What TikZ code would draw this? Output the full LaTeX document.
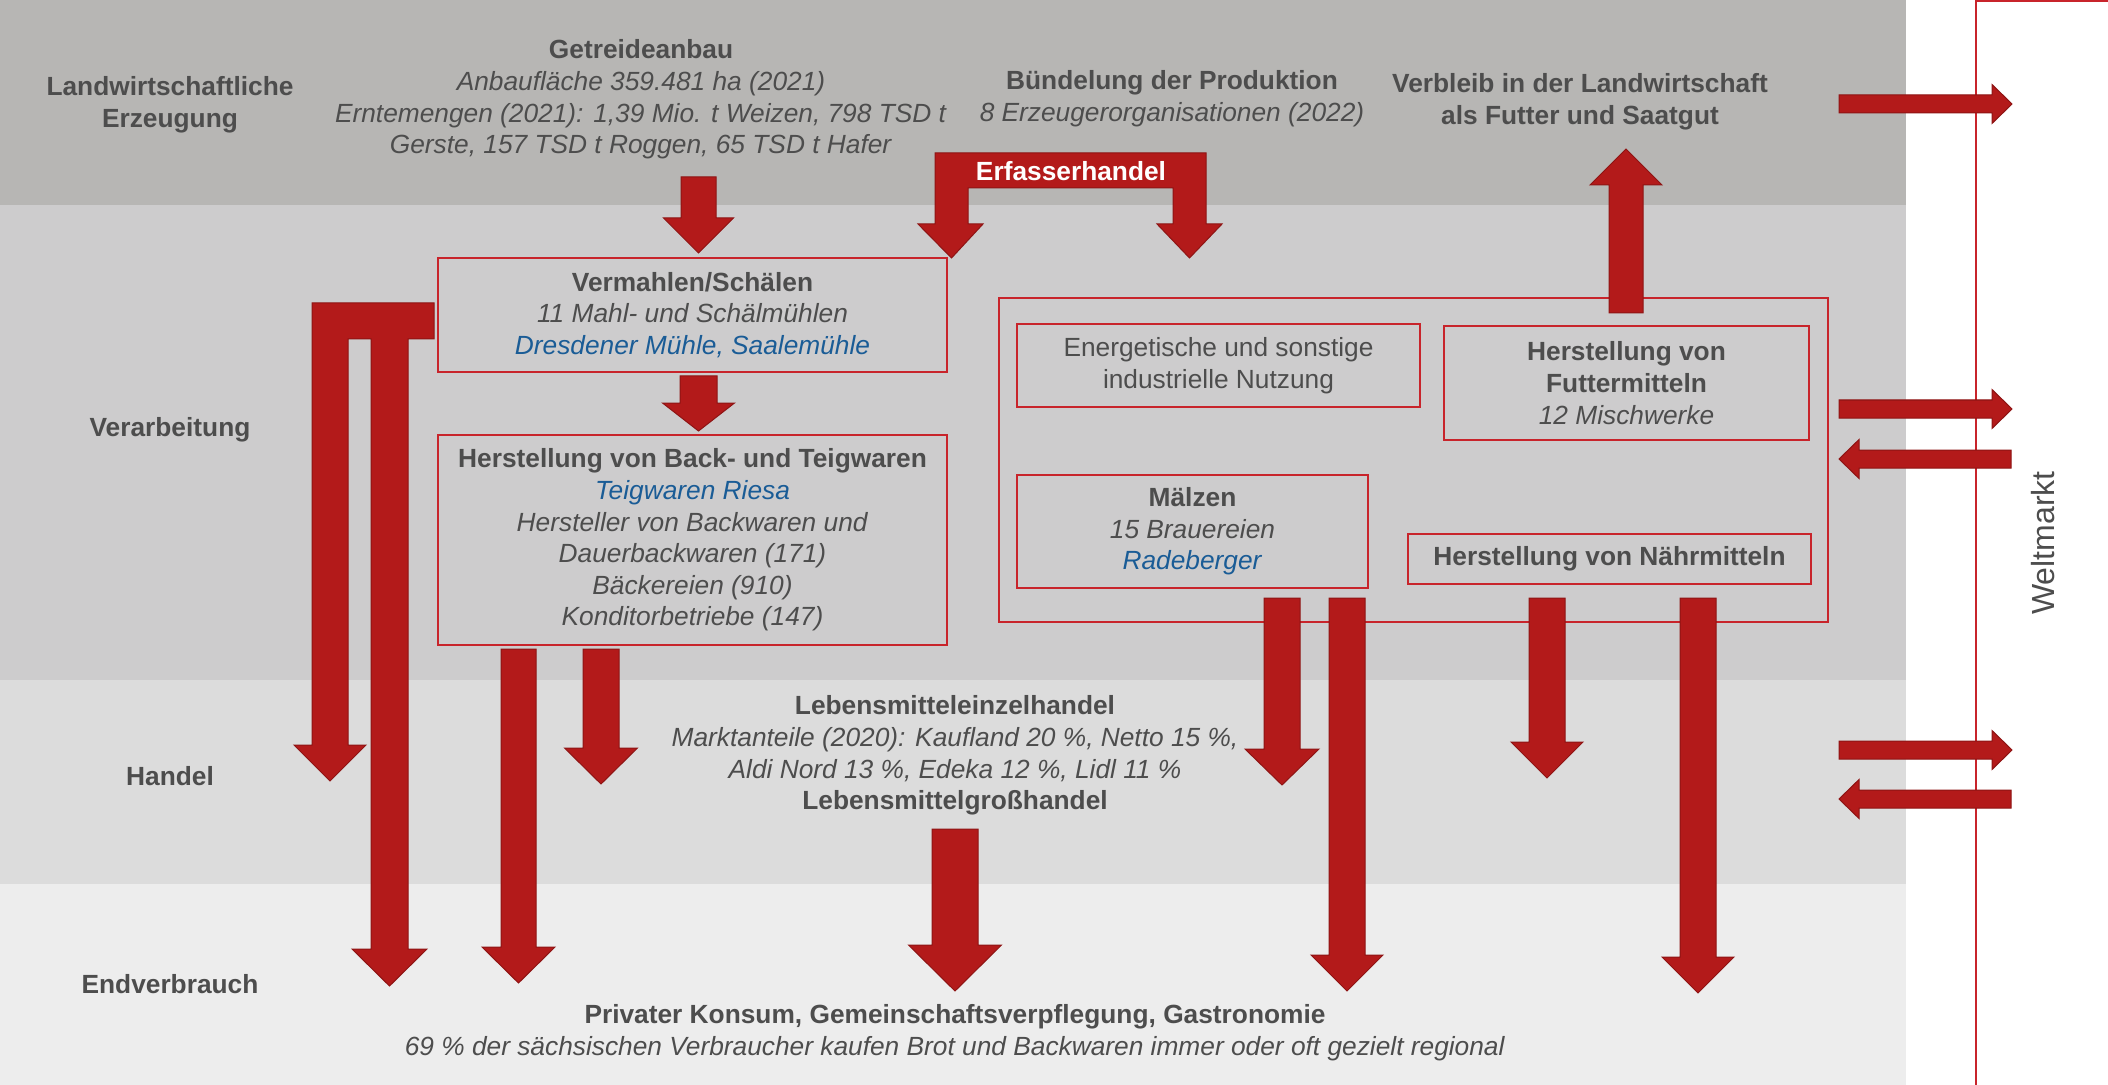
\documentclass[tikz,border=0pt]{standalone}
\usepackage{fontspec}
\setmainfont{Liberation Sans}
\definecolor{bandA}{HTML}{B7B6B4}
\definecolor{bandB}{HTML}{CDCCCD}
\definecolor{bandC}{HTML}{DCDCDC}
\definecolor{bandD}{HTML}{EDEDED}
\definecolor{txtgray}{HTML}{4D4D4D}
\definecolor{blueco}{HTML}{1A5C96}
\definecolor{boxred}{HTML}{C8242B}
\definecolor{arrowred}{HTML}{B31A1A}
\definecolor{arrowdark}{HTML}{8E1414}
\tikzset{
  lbl/.style={align=center, inner sep=0pt, text=txtgray,
    font=\fontsize{13.15}{15.8}\selectfont},
  frame/.style={draw=boxred, line width=1.1pt, inner sep=0pt, align=center,
    text=txtgray, font=\fontsize{13.15}{15.8}\selectfont},
  blockarrow/.style={fill=arrowred, draw=arrowdark, line width=0.5pt, line join=miter},
}
% block arrow pointing down: x centre, top, tip, half shaft, half head, head length
\newcommand{\blockdown}[6]{%
  \filldraw[blockarrow] (#1-#4,#2) -- (#1+#4,#2) -- (#1+#4,#3-#6) -- (#1+#5,#3-#6)
    -- (#1,#3) -- (#1-#5,#3-#6) -- (#1-#4,#3-#6) -- cycle;}
% block arrow pointing up: x centre, bottom, tip, half shaft, half head, head length
\newcommand{\blockup}[6]{%
  \filldraw[blockarrow] (#1-#4,#2) -- (#1+#4,#2) -- (#1+#4,#3+#6) -- (#1+#5,#3+#6)
    -- (#1,#3) -- (#1-#5,#3+#6) -- (#1-#4,#3+#6) -- cycle;}
% block arrow pointing right: y centre, start, tip, half shaft, half head, head length
\newcommand{\blockright}[6]{%
  \filldraw[blockarrow] (#2,#1-#4) -- (#3-#6,#1-#4) -- (#3-#6,#1-#5) -- (#3,#1)
    -- (#3-#6,#1+#5) -- (#3-#6,#1+#4) -- (#2,#1+#4) -- cycle;}
% block arrow pointing left: y centre, start, tip, half shaft, half head, head length
\newcommand{\blockleft}[6]{%
  \filldraw[blockarrow] (#2,#1-#4) -- (#3+#6,#1-#4) -- (#3+#6,#1-#5) -- (#3,#1)
    -- (#3+#6,#1+#5) -- (#3+#6,#1+#4) -- (#2,#1+#4) -- cycle;}
\begin{document}
\begin{tikzpicture}[x=0.5pt,y=-0.5pt]
\useasboundingbox (0,0) rectangle (2108,1085);
\fill[white] (0,0) rectangle (2108,1085);

% stage bands
\fill[bandA] (0,0) rectangle (1906,205);
\fill[bandB] (0,205) rectangle (1906,680);
\fill[bandC] (0,680) rectangle (1906,884);
\fill[bandD] (0,884) rectangle (1906,1085);

% world market frame
\coordinate (wmbot) at (1976,1090);
\coordinate (wmcorner) at (1976,1);
\coordinate (wmright) at (2115,1);
\draw[boxred, line width=1.1pt] (wmbot) -- (wmcorner) -- (wmright);
\node[lbl, rotate=90, font=\fontsize{16}{19}\selectfont] (weltmarkt) at (2043,543) {Weltmarkt};

% stage labels
\node[lbl, font=\fontsize{13.15}{15.8}\selectfont\bfseries] (erz) at (170,104.5) {Landwirtschaftliche\\Erzeugung};
\node[lbl, font=\fontsize{13.15}{15.8}\selectfont\bfseries] (verarb) at (170,430) {Verarbeitung};
\node[lbl, font=\fontsize{13.15}{15.8}\selectfont\bfseries] (handel) at (170,776) {Handel};
\node[lbl, font=\fontsize{13.15}{15.8}\selectfont\bfseries] (endv) at (170,984) {Endverbrauch};

% agricultural production
\node[lbl] (getreide) at (641,99.5) {\textbf{Getreideanbau}\\
  \textit{Anbaufläche 359.481 ha (2021)}\\
  \textit{Erntemengen (2021): 1,39 Mio. t Weizen, 798 TSD t}\\
  \textit{Gerste, 157 TSD t Roggen, 65 TSD t Hafer}};
\node[lbl] (buendel) at (1172,99) {\textbf{Bündelung der Produktion}\\
  \textit{8 Erzeugerorganisationen (2022)}};
\node[lbl, font=\fontsize{13.15}{15.8}\selectfont\bfseries] (verbleib) at (1580,102) {Verbleib in der Landwirtschaft\\als Futter und Saatgut};

% processing boxes
\node[frame, minimum width=254.5pt, minimum height=57pt] (verm) at (692.5,315)
  {\textbf{Vermahlen/Schälen}\\\textit{11 Mahl- und Schälmühlen}\\
   {\color{blueco}\textit{Dresdener Mühle, Saalemühle}}};
\node[frame, minimum width=254.5pt, minimum height=105pt] (back) at (692.5,540)
  {\textbf{Herstellung von Back- und Teigwaren}\\{\color{blueco}\textit{Teigwaren Riesa}}\\
   \textit{Hersteller von Backwaren und}\\\textit{Dauerbackwaren (171)}\\
   \textit{Bäckereien (910)}\\\textit{Konditorbetriebe (147)}};
\node[frame, minimum width=414.5pt, minimum height=162pt] (grp) at (1413.5,460) {};
\node[frame, minimum width=201.5pt, minimum height=41.5pt] (energ) at (1218.5,365.5)
  {Energetische und sonstige\\industrielle Nutzung};
\node[frame, minimum width=182.5pt, minimum height=57pt] (futter) at (1626.5,383)
  {\textbf{Herstellung von}\\\textbf{Futtermitteln}\\\textit{12 Mischwerke}};
\node[frame, minimum width=175.5pt, minimum height=56.5pt] (maelz) at (1192.5,531.5)
  {\textbf{Mälzen}\\\textit{15 Brauereien}\\{\color{blueco}\textit{Radeberger}}};
\node[frame, minimum width=201.5pt, minimum height=25pt] (naehr) at (1609.5,559)
  {\textbf{Herstellung von Nährmitteln}};

% trade and consumption
\node[lbl] (leh) at (955,755.5) {\textbf{Lebensmitteleinzelhandel}\\
  \textit{Marktanteile (2020): Kaufland 20 \%, Netto 15 \%,}\\
  \textit{Aldi Nord 13 \%, Edeka 12 \%, Lidl 11 \%}\\
  \textbf{Lebensmittelgroßhandel}};
\node[lbl] (konsum) at (955,1032.5) {\textbf{Privater Konsum, Gemeinschaftsverpflegung, Gastronomie}\\
  \textit{69 \% der sächsischen Verbraucher kaufen Brot und Backwaren immer oder oft gezielt regional}};

% collecting trade: bridge with two heads
\filldraw[blockarrow] (935,153) -- (1206,153) -- (1206,224) -- (1222,224) -- (1189.5,258)
  -- (1157,224) -- (1173,224) -- (1173,188) -- (968,188) -- (968,224) -- (983,224)
  -- (951.5,258) -- (918,224) -- (935,224) -- cycle;
\node[lbl, text=white, font=\fontsize{13.15}{15.8}\selectfont\bfseries] (erfasser) at (1071,171) {Erfasserhandel};

% milling output bypassing to trade and consumption
\filldraw[blockarrow] (312,303) -- (434,303) -- (434,339) -- (408,339) -- (408,949)
  -- (427,949) -- (389.5,986) -- (352,949) -- (371,949) -- (371,339) -- (348,339)
  -- (348,745) -- (366,745) -- (330,781) -- (294,745) -- (312,745) -- cycle;

% vertical flows
\blockdown{698.5}{177}{253}{17.5}{35}{35}
\blockdown{698.5}{376}{431}{18.5}{36}{28}
\blockdown{601}{649}{784}{18}{36.5}{36}
\blockdown{518.5}{649}{983}{17.5}{36.5}{36}
\blockdown{955}{829}{991}{23}{46.5}{46}
\blockdown{1282}{598}{785}{18}{37}{36}
\blockdown{1347}{598}{991}{18}{36}{36}
\blockdown{1547}{598}{778}{18}{36}{36}
\blockdown{1698}{598}{993}{18}{36}{36}
\blockup{1626}{313}{149}{17}{36}{36}

% exchange with the world market
\blockright{104}{1839}{2012}{9}{19.5}{20}
\blockright{409}{1839}{2012}{9}{19.5}{20}
\blockleft{459}{2011}{1839}{9}{19.5}{20}
\blockright{750}{1839}{2012}{9}{19.5}{20}
\blockleft{799}{2011}{1839}{9}{19.5}{20}
\end{tikzpicture}
\end{document}
